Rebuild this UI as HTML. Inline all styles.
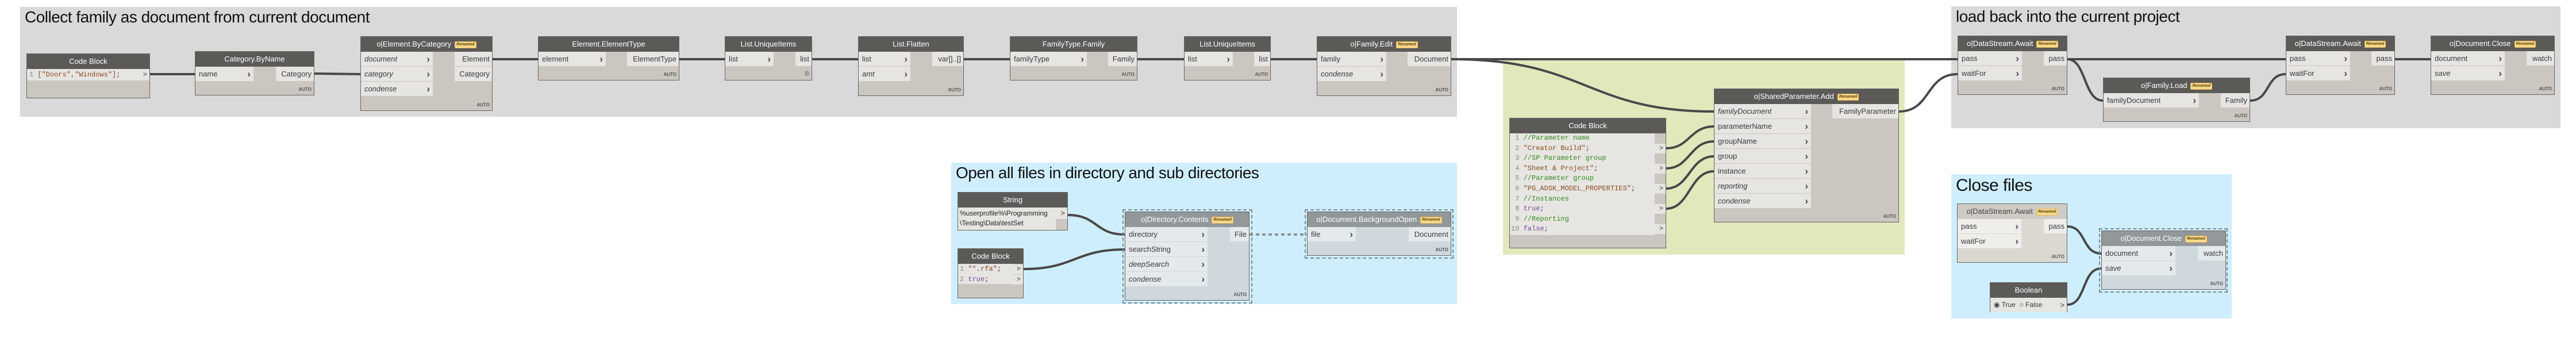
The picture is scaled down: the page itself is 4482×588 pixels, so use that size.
<!DOCTYPE html>
<html><head><meta charset="utf-8"><style>
*{margin:0;padding:0;box-sizing:border-box}
body{width:4482px;height:588px;background:#fff;position:relative;overflow:hidden;font-family:"Liberation Sans",sans-serif}
.g{position:absolute}
.t{position:absolute;left:8px;top:2px;font-size:28px;color:#111;white-space:nowrap;letter-spacing:-0.5px}
.n{position:absolute;border:1px solid #666;background:#cbc6bf;font-size:13px;color:#3a3a3a}
.h{height:26px;background:#5c5a57;color:#fff;text-align:center;line-height:26px;white-space:nowrap}
.i{position:absolute;left:0;height:25px;background:#e6e5e1;line-height:25px;padding-left:6px;white-space:nowrap}
.i b{position:absolute;right:5px;top:0;font-size:17px;color:#444}
.o{position:absolute;right:0;height:25px;background:#e6e5e1;line-height:25px;text-align:right;padding-right:4px;white-space:nowrap}
.a{position:absolute;right:4px;bottom:5px;font-size:8px;font-weight:bold;color:#555}
.r{display:inline-block;background:#fbd98b;border:1px solid #e8b860;border-radius:2px;font-size:7px;font-style:italic;font-weight:bold;color:#5a4000;line-height:10px;padding:0 2px;vertical-align:middle;margin-left:6px}
i{font-style:italic}
.fz{background:#cfd8dd}
.fz .h{background:#929799}
.fz .i,.fz .o{background:#e4e9ec}
.dash{position:absolute;border:2px dashed #7d8a92}
.cb{font-family:"Liberation Mono",monospace;font-size:12px}
.ln{color:#888}
.s{color:#8a4a1f}.c{color:#2f8a1e}.k{color:#7a3fa0}
</style></head><body>

<!-- groups -->
<div class="g" style="left:35px;top:12px;width:2500px;height:191px;background:#d9d9d9"><div class="t">Collect family as document from current document</div></div>
<div class="g" style="left:3395px;top:11px;width:1060px;height:212px;background:#d9d9d9"><div class="t">load back into the current project</div></div>
<div class="g" style="left:2615px;top:105px;width:699px;height:338px;background:#e1e9bc"></div>
<div class="g" style="left:1655px;top:283px;width:880px;height:246px;background:#cfeefd"><div class="t">Open all files in directory and sub directories</div></div>
<div class="g" style="left:3395px;top:303px;width:488px;height:251px;background:#cfeefd"><div class="t" style="top:3px;font-size:30px">Close files</div></div>

<!-- wires -->
<svg style="position:absolute;left:0;top:0" width="4482" height="588">
<g fill="none" stroke="#484848" stroke-width="4">
<path d="M261 129 L339 129"/>
<path d="M547 128 L627 129"/>
<path d="M857 103 L936 103"/>
<path d="M1182 103 L1261 103"/>
<path d="M1413 103 L1493 103"/>
<path d="M1677 103 L1757 103"/>
<path d="M1979 103 L2060 103"/>
<path d="M2211 103 L2291 103"/>
<path d="M2525 103 L3406 103"/>
<path d="M2525 103 C2760 103 2760 194 2982 194"/>
<path d="M3304 194 C3360 194 3350 129 3406 129"/>
<path d="M3597 103 L3977 103"/>
<path d="M3597 103 C3630 103 3625 175 3659 175"/>
<path d="M3915 175 C3950 175 3942 129 3977 129"/>
<path d="M4167 103 L4229 103"/>
<path d="M2899 258 C2940 258 2940 220 2982 220"/>
<path d="M2899 293 C2940 293 2940 246 2982 246"/>
<path d="M2899 328 C2940 328 2940 272 2982 272"/>
<path d="M2899 363 C2940 363 2940 298 2982 298"/>
<path d="M1858 374 C1910 374 1905 408 1957 408"/>
<path d="M1781 468 C1870 468 1870 434 1957 434"/>
<path d="M3597 394 C3630 394 3622 441 3656 441"/>
<path d="M3597 530 C3630 530 3622 467 3656 467"/>
<path d="M2174 408 L2274 408" stroke="#8a9499" stroke-dasharray="6 5"/>
</g></svg>

<!-- Group 1 nodes -->
<div class="n" style="left:46px;top:93px;width:215px;height:78px"><div class="h">Code Block</div>
<div class="i cb" style="top:26px;height:20px;line-height:20px;width:193px;padding-left:4px"><span class="ln">1</span> <span class="s">["Doors","Windows"]</span>;</div>
<div class="o cb" style="top:26px;height:20px;line-height:20px;width:20px">&gt;</div></div>

<div class="n" style="left:339px;top:89px;width:208px;height:77px"><div class="h">Category.ByName</div>
<div class="i" style="top:26px;width:101px">name<b>›</b></div><div class="o" style="top:26px;width:66px">Category</div><div class="a">AUTO</div></div>

<div class="n" style="left:627px;top:63px;width:230px;height:130px"><div class="h">o|Element.ByCategory<span class="r">Renamed</span></div>
<div class="i" style="top:26px;width:125px"><i>document</i><b>›</b></div>
<div class="i" style="top:52px;width:125px"><i>category</i><b>›</b></div>
<div class="i" style="top:78px;width:125px"><i>condense</i><b>›</b></div>
<div class="o" style="top:26px;width:65px">Element</div><div class="o" style="top:52px;width:65px">Category</div><div class="a">AUTO</div></div>

<div class="n" style="left:936px;top:63px;width:246px;height:77px"><div class="h">Element.ElementType</div>
<div class="i" style="top:26px;width:117px">element<b>›</b></div><div class="o" style="top:26px;width:90px">ElementType</div><div class="a">AUTO</div></div>

<div class="n" style="left:1261px;top:63px;width:152px;height:77px"><div class="h">List.UniqueItems</div>
<div class="i" style="top:26px;width:84px">list<b>›</b></div><div class="o" style="top:26px;width:28px">list</div><div class="a" style="font-size:10px;font-weight:normal">l|\</div></div>

<div class="n" style="left:1493px;top:63px;width:184px;height:104px"><div class="h">List.Flatten</div>
<div class="i" style="top:26px;width:90px">list<b>›</b></div><div class="i" style="top:52px;width:90px"><i>amt</i><b>›</b></div>
<div class="o" style="top:26px;width:54px">var[]..[]</div><div class="a">AUTO</div></div>

<div class="n" style="left:1757px;top:63px;width:222px;height:77px"><div class="h">FamilyType.Family</div>
<div class="i" style="top:26px;width:133px">familyType<b>›</b></div><div class="o" style="top:26px;width:50px">Family</div><div class="a">AUTO</div></div>

<div class="n" style="left:2060px;top:63px;width:151px;height:77px"><div class="h">List.UniqueItems</div>
<div class="i" style="top:26px;width:84px">list<b>›</b></div><div class="o" style="top:26px;width:28px">list</div><div class="a">AUTO</div></div>

<div class="n" style="left:2291px;top:63px;width:234px;height:104px"><div class="h">o|Family.Edit<span class="r">Renamed</span></div>
<div class="i" style="top:26px;width:120px">family<b>›</b></div><div class="i" style="top:52px;width:120px"><i>condense</i><b>›</b></div>
<div class="o" style="top:26px;width:75px">Document</div><div class="a">AUTO</div></div>

<!-- load back group -->
<div class="n" style="left:3406px;top:62px;width:191px;height:103px"><div class="h">o|DataStream.Await<span class="r">Renamed</span></div>
<div class="i" style="top:26px;width:111px">pass<b>›</b></div><div class="i" style="top:52px;width:111px">waitFor<b>›</b></div>
<div class="o" style="top:26px;width:40px">pass</div><div class="a">AUTO</div></div>

<div class="n" style="left:3659px;top:135px;width:256px;height:77px"><div class="h">o|Family.Load<span class="r">Renamed</span></div>
<div class="i" style="top:26px;width:166px">familyDocument<b>›</b></div><div class="o" style="top:26px;width:50px">Family</div><div class="a">AUTO</div></div>

<div class="n" style="left:3977px;top:62px;width:190px;height:103px"><div class="h">o|DataStream.Await<span class="r">Renamed</span></div>
<div class="i" style="top:26px;width:111px">pass<b>›</b></div><div class="i" style="top:52px;width:111px">waitFor<b>›</b></div>
<div class="o" style="top:26px;width:40px">pass</div><div class="a">AUTO</div></div>

<div class="n" style="left:4229px;top:62px;width:216px;height:103px"><div class="h">o|Document.Close<span class="r">Renamed</span></div>
<div class="i" style="top:26px;width:128px">document<b>›</b></div><div class="i" style="top:52px;width:128px"><i>save</i><b>›</b></div>
<div class="o" style="top:26px;width:48px">watch</div><div class="a">AUTO</div></div>

<!-- green group -->
<div class="n" style="left:2982px;top:154px;width:322px;height:233px"><div class="h">o|SharedParameter.Add<span class="r">Renamed</span></div>
<div class="i" style="top:26px;width:168px"><i>familyDocument</i><b>›</b></div>
<div class="i" style="top:52px;width:168px">parameterName<b>›</b></div>
<div class="i" style="top:78px;width:168px">groupName<b>›</b></div>
<div class="i" style="top:104px;width:168px">group<b>›</b></div>
<div class="i" style="top:130px;width:168px">instance<b>›</b></div>
<div class="i" style="top:156px;width:168px"><i>reporting</i><b>›</b></div>
<div class="i" style="top:182px;width:168px"><i>condense</i><b>›</b></div>
<div class="o" style="top:26px;width:115px">FamilyParameter</div><div class="a">AUTO</div></div>

<div class="n cb" style="left:2626px;top:205px;width:273px;height:227px"><div class="h" style="font-family:'Liberation Sans',sans-serif;font-size:13px">Code Block</div>
<div style="position:absolute;left:0;top:26px;width:252px;height:177px;background:#e6e5e1;padding:0 0 0 2px;line-height:17.6px;white-space:pre"><span class="ln"> 1</span> <span class="c">//Parameter name</span>
<span class="ln"> 2</span> <span class="s">"Creator Build"</span>;
<span class="ln"> 3</span> <span class="c">//SP Parameter group</span>
<span class="ln"> 4</span> <span class="s">"Sheet &amp; Project"</span>;
<span class="ln"> 5</span> <span class="c">//Parameter group</span>
<span class="ln"> 6</span> <span class="s">"PG_ADSK_MODEL_PROPERTIES"</span>;
<span class="ln"> 7</span> <span class="c">//Instances</span>
<span class="ln"> 8</span> <span class="k">true</span>;
<span class="ln"> 9</span> <span class="c">//Reporting</span>
<span class="ln">10</span> <span class="k">false</span>;</div>
<div class="o" style="top:44px;height:17px;line-height:17px;width:20px">&gt;</div>
<div class="o" style="top:79px;height:17px;line-height:17px;width:20px">&gt;</div>
<div class="o" style="top:114px;height:17px;line-height:17px;width:20px">&gt;</div>
<div class="o" style="top:149px;height:17px;line-height:17px;width:20px">&gt;</div>
<div class="o" style="top:184px;height:17px;line-height:17px;width:20px">&gt;</div></div>

<!-- open files group -->
<div class="n" style="left:1666px;top:334px;width:192px;height:67px"><div class="h">String</div>
<div class="i" style="top:26px;width:170px;height:39px;line-height:17px;padding:2px 3px;font-size:12px;color:#222">%userprofile%\Programming<br>\Testing\Data\testSet</div>
<div class="o" style="top:26px;width:20px;height:20px;line-height:20px">&gt;</div></div>

<div class="n cb" style="left:1666px;top:432px;width:115px;height:87px"><div class="h" style="font-family:'Liberation Sans',sans-serif;font-size:13px">Code Block</div>
<div style="position:absolute;left:0;top:26px;width:94px;height:35px;background:#e6e5e1;padding-left:3px;line-height:18px;white-space:pre"><span class="ln">1</span> <span class="s">"*.rfa"</span>;
<span class="ln">2</span> <span class="k">true</span>;</div>
<div class="o" style="top:27px;height:17px;line-height:17px;width:19px">&gt;</div>
<div class="o" style="top:45px;height:17px;line-height:17px;width:19px">&gt;</div></div>

<div class="dash" style="left:1953px;top:364px;width:226px;height:164px"></div>
<div class="n fz" style="left:1957px;top:368px;width:217px;height:155px"><div class="h">o|Directory.Contents<span class="r">Renamed</span></div>
<div class="i" style="top:26px;width:143px">directory<b>›</b></div>
<div class="i" style="top:52px;width:143px">searchString<b>›</b></div>
<div class="i" style="top:78px;width:143px"><i>deepSearch</i><b>›</b></div>
<div class="i" style="top:104px;width:143px"><i>condense</i><b>›</b></div>
<div class="o" style="top:26px;width:33px">File</div><div class="a">AUTO</div></div>

<div class="dash" style="left:2270px;top:364px;width:259px;height:86px"></div>
<div class="n fz" style="left:2274px;top:368px;width:251px;height:77px"><div class="h">o|Document.BackgroundOpen<span class="r">Renamed</span></div>
<div class="i" style="top:26px;width:84px">file<b>›</b></div><div class="o" style="top:26px;width:73px">Document</div><div class="a">AUTO</div></div>

<!-- close files group -->
<div class="n" style="left:3405px;top:354px;width:192px;height:103px;background:#dbd8d2"><div class="h" style="background:#cfcbc4;color:#444">o|DataStream.Await<span class="r">Renamed</span></div>
<div class="i" style="top:26px;width:111px;background:#efeeeb">pass<b>›</b></div><div class="i" style="top:52px;width:111px;background:#efeeeb">waitFor<b>›</b></div>
<div class="o" style="top:26px;width:40px;background:#efeeeb">pass</div><div class="a">AUTO</div></div>

<div class="n" style="left:3462px;top:491px;width:135px;height:52px"><div class="h">Boolean</div>
<div class="i" style="top:26px;width:115px;font-size:12px">◉ True &nbsp;○ False</div>
<div class="o" style="top:26px;width:19px">&gt;</div></div>

<div class="dash" style="left:3652px;top:397px;width:224px;height:112px"></div>
<div class="n fz" style="left:3656px;top:401px;width:217px;height:103px"><div class="h">o|Document.Close<span class="r">Renamed</span></div>
<div class="i" style="top:26px;width:128px">document<b>›</b></div><div class="i" style="top:52px;width:128px"><i>save</i><b>›</b></div>
<div class="o" style="top:26px;width:48px">watch</div><div class="a">AUTO</div></div>

</body></html>
